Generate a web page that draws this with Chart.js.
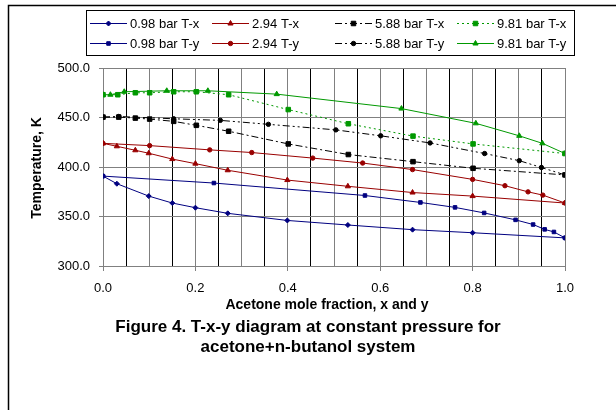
<!DOCTYPE html>
<html>
<head>
<meta charset="utf-8">
<script src="https://cdn.jsdelivr.net/npm/chart.js@4.4.1/dist/chart.umd.min.js"></script>
<style>
  html, body { margin: 0; padding: 0; background: #fff; }
  #wrap { width: 616px; height: 410px; }
</style>
</head>
<body>
<div id="wrap"><canvas id="txy" width="616" height="410"></canvas></div>
<script>
// --- Datos (x o y de acetona, temperatura en K) ---
const x098 = [0, 0.03, 0.099, 0.15, 0.2, 0.27, 0.399, 0.53, 0.67, 0.8, 1.0];
const T098x = [390.8, 383.1, 370.6, 363.6, 358.9, 353.2, 346.0, 341.4, 336.7, 333.6, 328.4];
const y098 = [0, 0.24, 0.567, 0.687, 0.762, 0.825, 0.893, 0.931, 0.956, 0.976, 1.0];
const T098y = [390.8, 383.8, 371.2, 364.2, 359.2, 353.6, 346.6, 341.9, 337.0, 334.4, 328.4];

const x294 = [0, 0.03, 0.07, 0.099, 0.15, 0.2, 0.27, 0.399, 0.53, 0.67, 0.8, 1.0];
const T294x = [423.9, 420.9, 416.9, 413.9, 408.0, 403.4, 396.7, 386.8, 380.5, 374.2, 370.6, 363.6];
const y294 = [0, 0.101, 0.231, 0.322, 0.454, 0.562, 0.67, 0.8, 0.87, 0.92, 0.952, 1.0];
const T294y = [423.9, 421.6, 417.3, 414.6, 409.0, 404.0, 397.4, 387.5, 381.1, 374.9, 371.6, 363.6];

const x588 = [0, 0.034, 0.07, 0.101, 0.153, 0.202, 0.272, 0.401, 0.531, 0.671, 0.801, 1.0];
const T588x = [450.4, 450.4, 449.4, 448.4, 446.1, 442.1, 436.1, 423.3, 412.6, 405.4, 398.7, 392.0];
const y588 = [0, 0.034, 0.153, 0.254, 0.358, 0.504, 0.601, 0.708, 0.826, 0.901, 0.949, 1.0];
const T588y = [450.4, 451.0, 448.7, 447.1, 443.1, 437.5, 431.5, 424.3, 413.6, 406.4, 399.5, 392.0];

const x981 = [0, 0.032, 0.07, 0.101, 0.153, 0.202, 0.272, 0.401, 0.531, 0.671, 0.801, 1.0];
const T981x = [473.0, 473.0, 475.0, 475.0, 476.0, 476.0, 473.0, 458.0, 443.7, 431.2, 423.3, 413.6];
const y981 = [0, 0.016, 0.046, 0.138, 0.227, 0.376, 0.646, 0.807, 0.901, 0.951, 1.0];
const T981y = [473.0, 473.0, 476.0, 477.0, 477.0, 473.6, 459.0, 444.1, 431.5, 423.9, 413.6];

const xTicks = [0.0, 0.2, 0.4, 0.6, 0.8, 1.0];
const yTicks = [300.0, 350.0, 400.0, 450.0, 500.0];

// --- Colores y estilos ---
const navy = "#000080";
const darkRed = "#990000";
const green = "#009900";
const black = "#000000";
const fontFamily = "Arial, 'Liberation Sans', sans-serif";

function pts(xs, ts) {
  return xs.map((x, i) => ({ x: x, y: ts[i] }));
}

function serie(label, xs, ts, color, style, radius, dash) {
  return {
    label: label,
    data: pts(xs, ts),
    showLine: true,
    borderColor: color,
    backgroundColor: color,
    borderWidth: 1,
    borderDash: dash,
    pointStyle: style,
    pointRadius: radius,
    pointBorderWidth: 1,
    pointBorderColor: color,
    pointBackgroundColor: color,
    tension: 0,
  };
}

const datasets = [
  serie("0.98 bar T-x", x098, T098x, navy, "rectRot", 2.5, []),
  serie("2.94 T-x", x294, T294x, darkRed, "triangle", 3, []),
  serie("5.88 bar T-x", x588, T588x, black, "rect", 3.2, [7, 3, 2, 3]),
  serie("9.81 bar T-x", x981, T981x, green, "rect", 3.2, [2, 3]),
  serie("0.98 bar T-y", y098, T098y, navy, "rect", 2.5, []),
  serie("2.94 T-y", y294, T294y, darkRed, "circle", 2.2, []),
  serie("5.88 bar T-y", y588, T588y, black, "circle", 2.2, [7, 3, 2, 3, 2, 3]),
  serie("9.81 bar T-y", y981, T981y, green, "triangle", 3, []),
];

// --- Plugin: marco, leyenda y títulos ---
const decor = {
  id: "decor",
  afterDraw(chart) {
    const ctx = chart.ctx;
    ctx.save();

    // marco exterior (sólo arriba e izquierda visibles)
    ctx.strokeStyle = "#000";
    ctx.lineWidth = 1.5;
    ctx.beginPath();
    ctx.moveTo(616, 5.5);
    ctx.lineTo(8.5, 5.5);
    ctx.lineTo(8.5, 410);
    ctx.stroke();

    // leyenda
    ctx.lineWidth = 1;
    ctx.strokeRect(86.5, 10.5, 488, 45);
    const colX = [90, 212, 335, 457];
    const rowY = [23, 43];
    ctx.font = "13px " + fontFamily;
    ctx.textBaseline = "middle";
    ctx.textAlign = "left";
    chart.data.datasets.forEach((ds, i) => {
      const x0 = colX[i % 4];
      const y0 = rowY[Math.floor(i / 4)];
      ctx.strokeStyle = ds.borderColor;
      ctx.setLineDash(ds.borderDash);
      ctx.beginPath();
      ctx.moveTo(x0, y0 + 0.5);
      ctx.lineTo(x0 + 37, y0 + 0.5);
      ctx.stroke();
      ctx.setLineDash([]);
      ctx.fillStyle = ds.borderColor;
      Chart.helpers.drawPoint(ctx, {
        pointStyle: ds.pointStyle,
        radius: ds.pointRadius,
        borderWidth: 1,
        rotation: 0,
      }, x0 + 18.5, y0 + 0.5);
      ctx.fillStyle = "#000";
      ctx.fillText(ds.label, x0 + 40, y0 + 1);
    });

    // títulos de ejes
    ctx.fillStyle = "#000";
    ctx.textAlign = "center";
    ctx.font = "bold 14px " + fontFamily;
    ctx.fillText("Acetone mole fraction, x and y", 327, 305);
    ctx.save();
    ctx.translate(37, 168);
    ctx.rotate(-Math.PI / 2);
    ctx.fillText("Temperature, K", 0, 0);
    ctx.restore();

    // título de la figura
    ctx.font = "bold 17px " + fontFamily;
    ctx.fillText("Figure 4. T-x-y diagram at constant pressure for", 308, 327);
    ctx.fillText("acetone+n-butanol system", 308, 347);
    ctx.restore();
  },
};

function isMajorX(v) {
  return xTicks.some((t) => Math.abs(t - v) < 1e-6);
}

new Chart(document.getElementById("txy"), {
  type: "scatter",
  data: { datasets: datasets },
  plugins: [decor],
  options: {
    responsive: false,
    animation: false,
    devicePixelRatio: 1,
    layout: { padding: { left: 0, right: 51, top: 68, bottom: 0 } },
    plugins: {
      legend: { display: false },
      tooltip: { enabled: false },
    },
    scales: {
      x: {
        type: "linear",
        min: 0,
        max: 1,
        afterFit: (scale) => { scale.height = 144; },
        afterBuildTicks: (scale) => {
          const t = [];
          for (let i = 0; i <= 20; i++) t.push({ value: i * 0.05 });
          scale.ticks = t;
        },
        ticks: {
          autoSkip: false,
          maxRotation: 0,
          padding: 10,
          color: "#000",
          font: { family: fontFamily, size: 13 },
          callback: (v) => (isMajorX(v) ? v.toFixed(1) : ""),
        },
        grid: {
          color: (c) => (c.index % 2 === 1 ? "#000000" : "#808080"),
          tickLength: 5,
          tickColor: (c) => (c.tick && isMajorX(c.tick.value) ? "#808080" : "rgba(0,0,0,0)"),
        },
        border: { color: "#808080" },
      },
      y: {
        type: "linear",
        min: 300,
        max: 500,
        afterFit: (scale) => { scale.width = 103; },
        afterBuildTicks: (scale) => {
          scale.ticks = yTicks.map((v) => ({ value: v }));
        },
        ticks: {
          padding: 9,
          color: "#000",
          font: { family: fontFamily, size: 13 },
          callback: (v) => v.toFixed(1),
        },
        grid: {
          color: "#808080",
          tickLength: 4,
          tickColor: "#808080",
        },
        border: { color: "#808080" },
      },
    },
  },
});
</script>
</body>
</html>
